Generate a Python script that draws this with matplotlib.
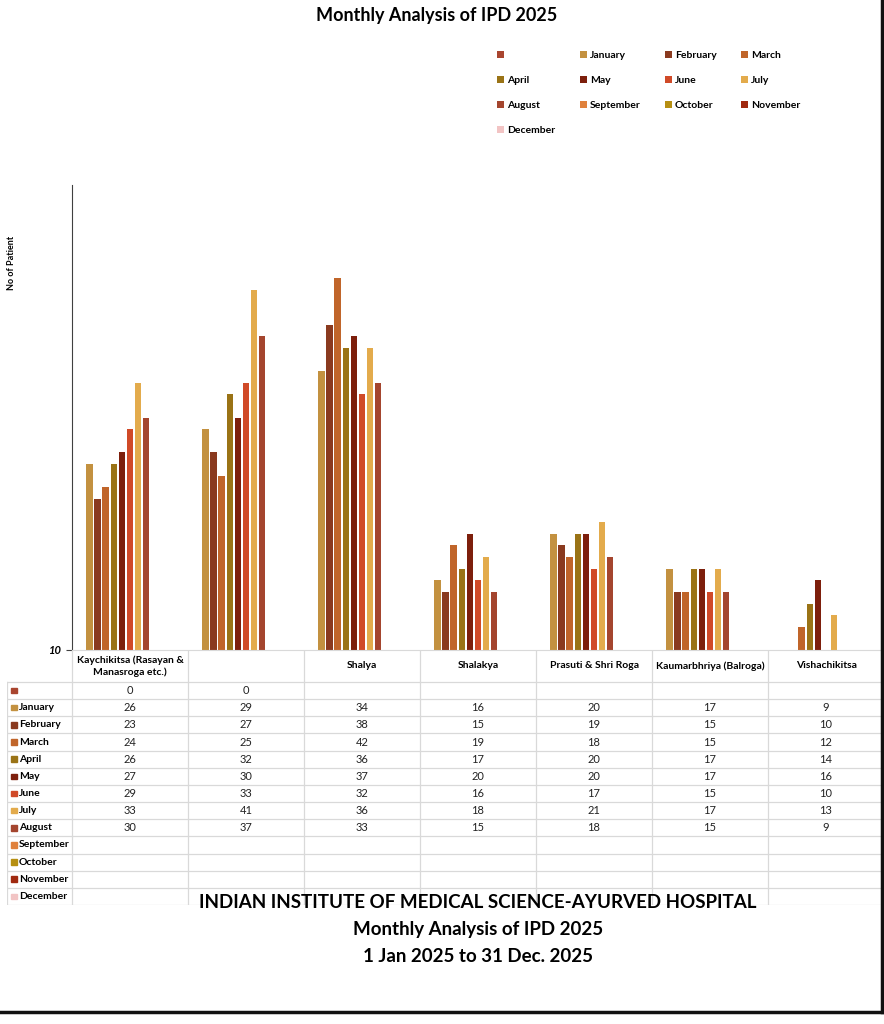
import numpy as np
import matplotlib.pyplot as plt
from matplotlib.patches import Patch, Rectangle
from matplotlib.lines import Line2D

plt.rcParams['font.family'] = ['Lato', 'DejaVu Sans']

# departments (second heading is blank in the source sheet)
categories = ['Kaychikitsa (Rasayan &\nManasroga etc.)', '', 'Shalya', 'Shalakya',
              'Prasuti & Shri Roga', 'Kaumarbhriya (Balroga)', 'Vishachikitsa']
series_names = ['', 'January', 'February', 'March', 'April', 'May', 'June',
                'July', 'August', 'September', 'October', 'November', 'December']

nan = np.nan
blank = [0, 0, nan, nan, nan, nan, nan]
january = [26, 29, 34, 16, 20, 17, 9]
february = [23, 27, 38, 15, 19, 15, 10]
march = [24, 25, 42, 19, 18, 15, 12]
april = [26, 32, 36, 17, 20, 17, 14]
may = [27, 30, 37, 20, 20, 17, 16]
june = [29, 33, 32, 16, 17, 15, 10]
july = [33, 41, 36, 18, 21, 17, 13]
august = [30, 37, 33, 15, 18, 15, 9]
september = [nan] * 7
october = [nan] * 7
november = [nan] * 7
december = [nan] * 7

series_values = [blank, january, february, march, april, may, june, july,
                 august, september, october, november, december]
colors = ['#A9452F', '#C39140', '#8A3A1F', '#C0652A', '#9A7316', '#7D1F0C',
          '#D04A28', '#E3AB4C', '#A4452E', '#E0813C', '#B68F12', '#A0290F',
          '#F2C4C4']

W, H = 884, 1024
fig = plt.figure(figsize=(W / 100, H / 100), dpi=100)


def fx(px):
    return px / W


def fy(py):
    return 1 - py / H


# main bar chart
ax = fig.add_axes([fx(72), fy(650), fx(884) - fx(72), fy(185) - fy(650)])
x = np.arange(len(categories))
slot = 0.07
for i, (vals, c) in enumerate(zip(series_values, colors)):
    ax.bar(x + (i - 6) * slot, vals, width=slot * 0.8, color=c, zorder=2)

ax.set_xlim(-0.5, len(categories) - 0.5)
ax.set_ylim(10, 50)
ax.set_yticks([10])
ax.set_yticklabels(['10'], fontsize=8, fontweight='bold', fontstyle='italic')
ax.tick_params(axis='y', length=4, color='#404040', pad=3)
ax.set_xticks([])
for s in ['top', 'right']:
    ax.spines[s].set_visible(False)
ax.spines['bottom'].set_color('#D9D9D9')
ax.spines['left'].set_color('#404040')

fig.text(fx(12), fy(263), 'No of Patient', rotation=90, fontsize=6.5,
         fontweight='bold', ha='center', va='center')

fig.text(fx(437), fy(15), 'Monthly Analysis of IPD 2025', fontsize=13,
         fontweight='bold', ha='center', va='center')

# legend, Excel style row-wise order
handles = [Patch(facecolor=c, edgecolor='none') for c in colors]
order = [0, 4, 8, 12, 1, 5, 9, 2, 6, 10, 3, 7, 11]
fig.legend([handles[k] for k in order], [series_names[k] for k in order],
           loc='upper left', bbox_to_anchor=(fx(497), fy(51)), ncol=4,
           frameon=False, prop={'weight': 'bold', 'size': 7.5},
           handlelength=0.7, handleheight=0.7, handletextpad=0.3,
           columnspacing=2.3, labelspacing=1.5, borderpad=0, borderaxespad=0)

# data table under the chart
tx0, tx1, ty0, ty1 = 7, 884, 650, 905
tab = fig.add_axes([fx(tx0), fy(ty1), fx(tx1) - fx(tx0), fy(ty0) - fy(ty1)])
tab.set_xlim(tx0, tx1)
tab.set_ylim(ty1, ty0)
tab.axis('off')
grid = '#D9D9D9'
col0 = 72
colw = (tx1 - col0) / len(categories)
head_bot = 682
rowh = (ty1 - head_bot) / len(series_names)

for k in range(len(categories) + 1):
    xx = col0 + k * colw
    tab.plot([xx, xx], [ty0, ty1], color=grid, lw=0.9)
tab.plot([tx0, tx0], [head_bot, ty1], color=grid, lw=0.9)
for r in range(len(series_names) + 1):
    yy = head_bot + r * rowh
    tab.plot([tx0, tx1], [yy, yy], color=grid, lw=0.9)

for k, name in enumerate(categories):
    tab.text(col0 + (k + 0.5) * colw, (ty0 + head_bot) / 2, name, fontsize=7.5,
             fontweight='bold', ha='center', va='center', linespacing=1.35)

for r, (name, vals, c) in enumerate(zip(series_names, series_values, colors)):
    yc = head_bot + (r + 0.5) * rowh
    tab.add_patch(Rectangle((11, yc - 2.8), 5.5, 5.5, color=c))
    tab.text(19, yc, name, fontsize=7.5, fontweight='bold', ha='left', va='center')
    for k, v in enumerate(vals):
        if not np.isnan(v):
            tab.text(col0 + (k + 0.5) * colw, yc, f'{int(v)}', fontsize=8,
                     ha='center', va='center', color='#222222')

# footer
footer = ['INDIAN INSTITUTE OF MEDICAL SCIENCE-AYURVED HOSPITAL',
          'Monthly Analysis of IPD 2025', '1 Jan 2025 to 31 Dec. 2025']
for line, py in zip(footer, [902, 930, 957]):
    fig.text(fx(478), fy(py), line, fontsize=13.5, fontweight='bold',
             ha='center', va='center')

# frame lines at right and bottom
fig.add_artist(Line2D([0, fx(882)], [fy(1012), fy(1012)], color='#111111',
                      lw=2.5, transform=fig.transFigure))
fig.add_artist(Line2D([fx(882), fx(882)], [fy(1012), 1], color='#111111',
                      lw=2.5, transform=fig.transFigure))

fig.savefig('out.png', dpi=100)
